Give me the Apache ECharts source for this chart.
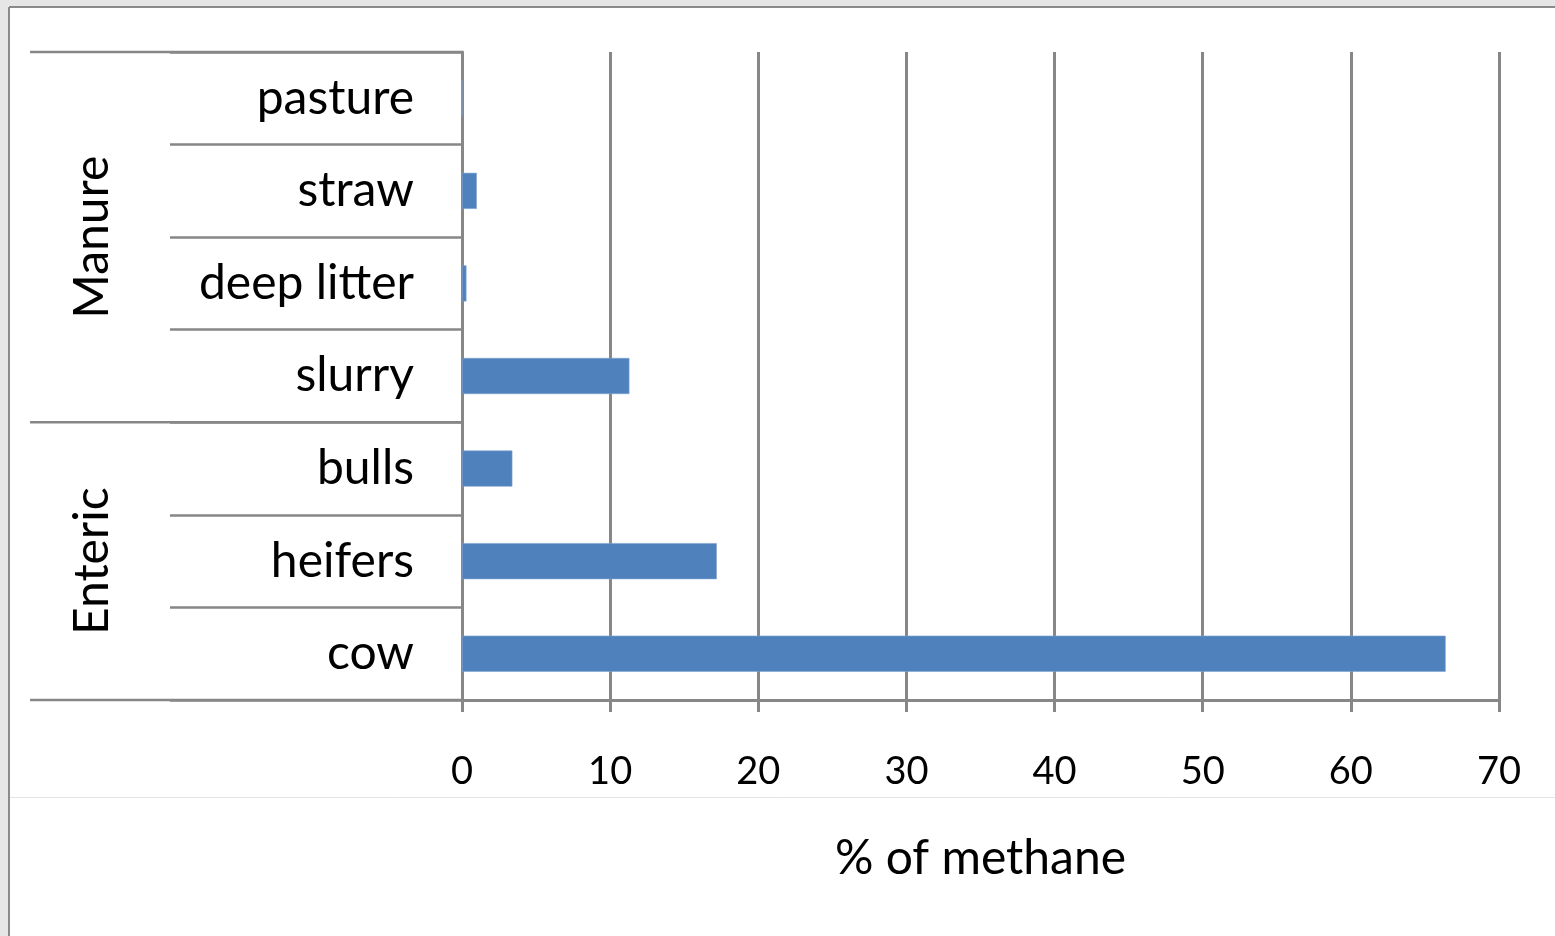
<!DOCTYPE html>
<html><head><meta charset="utf-8">
<script src="https://cdn.jsdelivr.net/npm/echarts@6/dist/echarts.min.js"></script>
<style>html,body{margin:0;padding:0;background:#fff;overflow:hidden}#c{width:1555px;height:936px}</style>
</head><body><div id="c"></div>
<script>
// categories listed bottom to top
const categories = ['cow', 'heifers', 'bulls', 'slurry', 'deep litter', 'straw', 'pasture'];
const methanePct = [66.4, 17.2, 3.4, 11.3, 0.3, 1.0, 0];
const groupNames = ['Enteric', 'Manure'];
const groupSizes = [3, 4];
const xMin = 0, xMax = 70, xStep = 10;
const axisTitle = '% of methane';

const FONT = 'Lato';
const GRAY = '#878787';
const chart = echarts.init(document.getElementById('c'), null, {renderer: 'canvas'});

chart.setOption({
  animation: false,
  backgroundColor: '#ffffff',
  grid: {left: 462, right: 56, top: 52, bottom: 236, containLabel: false},
  xAxis: {
    type: 'value', min: xMin, max: xMax, interval: xStep,
    name: axisTitle, nameLocation: 'middle', nameGap: 135,
    nameTextStyle: {fontFamily: FONT, fontSize: 48, color: '#000'},
    axisLine: {show: true, lineStyle: {color: GRAY, width: 3}},
    axisTick: {show: true, length: 12, lineStyle: {color: GRAY, width: 3}},
    splitLine: {show: true, lineStyle: {color: GRAY, width: 3}},
    axisLabel: {fontFamily: FONT, fontSize: 38, color: '#000', margin: 53}
  },
  yAxis: {
    type: 'category', data: categories,
    axisLine: {show: true, lineStyle: {color: GRAY, width: 3}},
    axisTick: {show: true, length: 292, lineStyle: {color: GRAY, width: 2.5}},
    axisLabel: {fontFamily: FONT, fontSize: 48, color: '#000', margin: 48},
    splitLine: {show: false}
  },
  series: [{
    type: 'bar', data: methanePct, barCategoryGap: '61%',
    itemStyle: {color: '#4f81bd', borderColor: '#7fa3d1', borderWidth: 0.6}
  }]
});

function decorate() {
  const ax = chart.convertToPixel({xAxisIndex: 0}, xMin);
  const c0 = chart.convertToPixel({yAxisIndex: 0}, 0);
  const c1 = chart.convertToPixel({yAxisIndex: 0}, 1);
  const step = c1 - c0; // negative (upwards)
  const boundary = i => c0 + (i - 0.5) * step; // boundary below index i
  const els = [];
  // page frame
  els.push({type: 'rect', shape: {x: 0, y: 0, width: 1555, height: 6}, style: {fill: '#e6e6e6'}, z: 100});
  els.push({type: 'rect', shape: {x: 0, y: 0, width: 8, height: 936}, style: {fill: '#e6e6e6'}, z: 100});
  els.push({type: 'line', shape: {x1: 9, y1: 7, x2: 1555, y2: 7}, style: {stroke: '#8a8a8a', lineWidth: 2}, z: 101});
  els.push({type: 'line', shape: {x1: 9, y1: 7, x2: 9, y2: 936}, style: {stroke: '#8a8a8a', lineWidth: 2}, z: 101});
  els.push({type: 'line', shape: {x1: 10, y1: 797.5, x2: 1555, y2: 797.5}, style: {stroke: '#e3e3e3', lineWidth: 1}, z: 1});
  // group separators and labels
  let start = 0;
  const bounds = [0];
  groupSizes.forEach(n => { start += n; bounds.push(start); });
  bounds.forEach(b => {
    const y = boundary(b);
    els.push({type: 'line', shape: {x1: 30, y1: y, x2: ax, y2: y}, style: {stroke: GRAY, lineWidth: 2.5}, z: 50});
  });
  for (let g = 0; g < groupNames.length; g++) {
    const yc = (boundary(bounds[g]) + boundary(bounds[g + 1])) / 2;
    els.push({type: 'text', x: 93, y: yc, rotation: Math.PI / 2,
      style: {text: groupNames[g], fontFamily: FONT, fontSize: 48, fill: '#000', align: 'center', verticalAlign: 'middle'}, z: 50});
  }
  chart.setOption({graphic: els});
}
decorate();
</script></body></html>
